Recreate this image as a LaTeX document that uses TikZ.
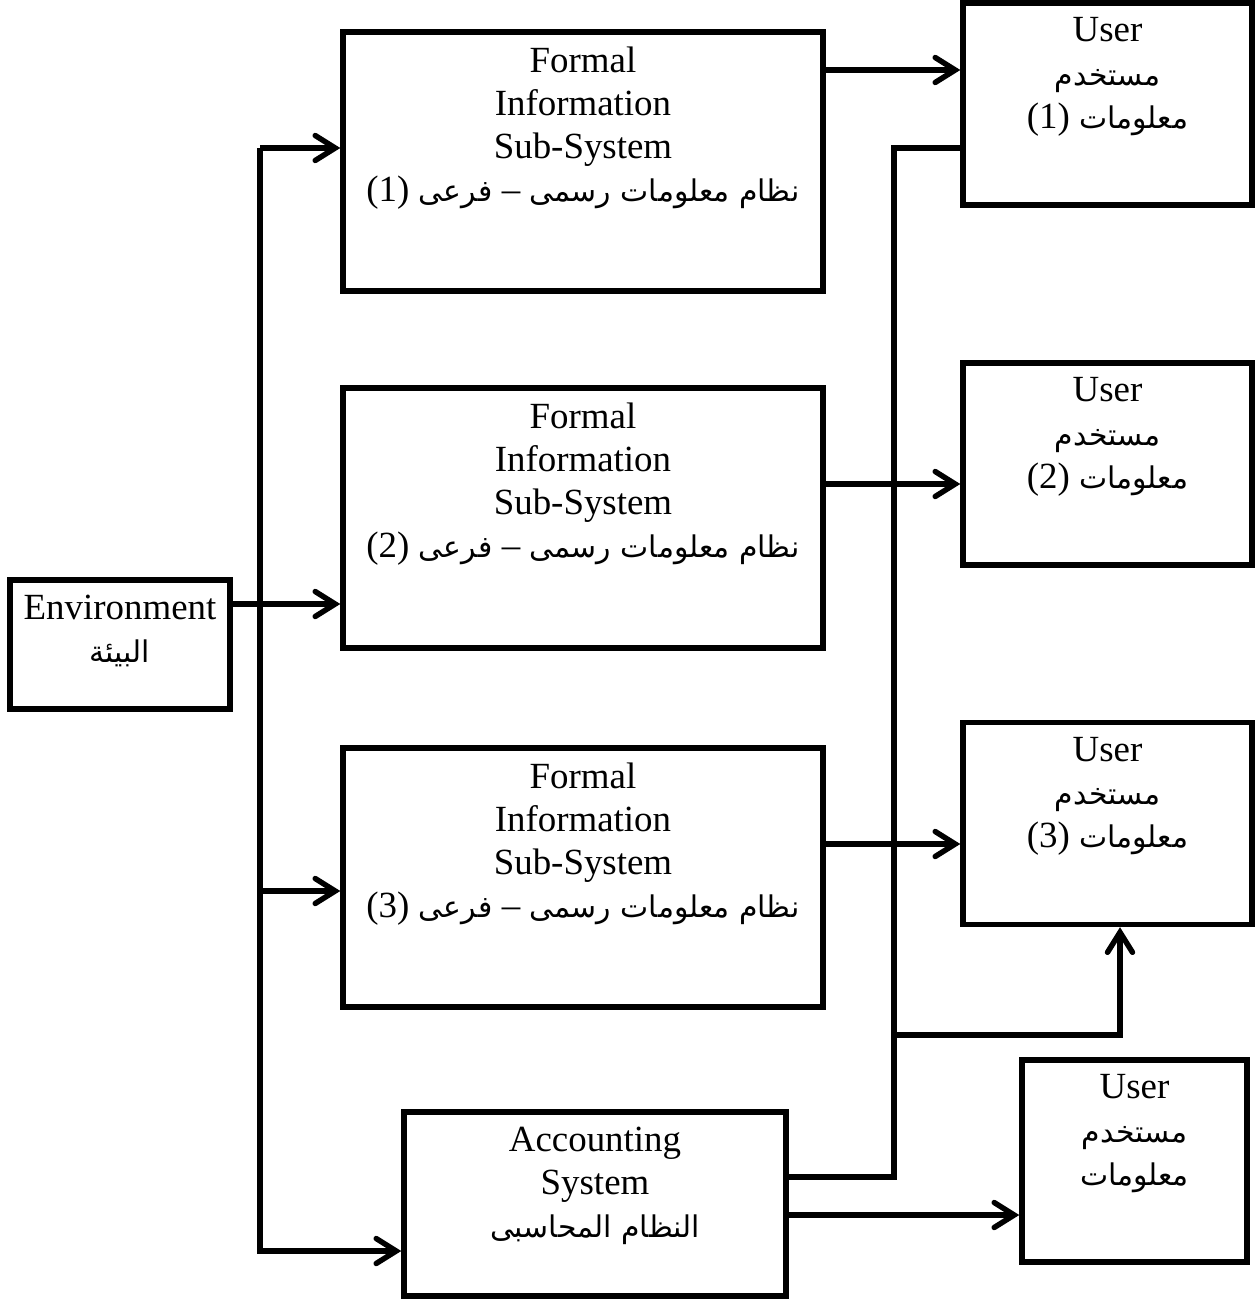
\documentclass[tikz,border=0pt]{standalone}
\usepackage{fontspec}
\setmainfont{Liberation Serif}
\newfontfamily\arabicfont[Script=Arabic]{DejaVu Sans}
\TeXXeTstate=1
\usetikzlibrary{arrows.meta}
\newcommand{\ar}[1]{{\arabicfont\fontsize{17}{24.5}\selectfont\beginR #1\endR}}
\newcommand{\nr}[1]{\beginL{\rmfamily\fontsize{21}{24.5}\selectfont(#1)}\endL}
\newcommand{\dsh}{{\rmfamily\fontsize{21}{24.5}\selectfont –}}
\newcommand{\topbox}[3]{\parbox[c][#2][t]{#1}{\centering\fontsize{21}{24.5}\selectfont\vspace*{7pt}#3}}

\begin{document}
\begin{tikzpicture}[x=0.02cm,y=-0.02cm,
	blk/.style={draw,line width=3.1pt,inner sep=0pt},
	wire/.style={line width=3.1pt},
	arr/.style={wire,-{Straight Barb[length=0.4cm,width=0.5cm,line cap=round]}}]
	\useasboundingbox (0,0) rectangle (1259,1301);
	% boxes
	\node[blk,minimum width=4.4cm,minimum height=2.58cm] (env) at (120,644.5) {\topbox{4.3cm}{2.48cm}{Environment\\\ar{البيئة}}};
	\node[blk,minimum width=9.6cm,minimum height=5.18cm] (fis1) at (583,161.5) {\topbox{9cm}{5.08cm}{Formal\\Information\\Sub-System\\\ar{نظام معلومات رسمى \dsh{} فرعى \nr{1}}}};
	\node[blk,minimum width=9.6cm,minimum height=5.2cm] (fis2) at (583,518) {\topbox{9cm}{5.1cm}{Formal\\Information\\Sub-System\\\ar{نظام معلومات رسمى \dsh{} فرعى \nr{2}}}};
	\node[blk,minimum width=9.6cm,minimum height=5.18cm] (fis3) at (583,877.5) {\topbox{9cm}{5.08cm}{Formal\\Information\\Sub-System\\\ar{نظام معلومات رسمى \dsh{} فرعى \nr{3}}}};
	\node[blk,minimum width=7.64cm,minimum height=3.68cm] (acc) at (595,1204) {\topbox{7.4cm}{3.58cm}{Accounting\\System\\\ar{النظام المحاسبى}}};
	\node[blk,minimum width=5.78cm,minimum height=4.04cm] (user1) at (1107.5,104) {\topbox{5.6cm}{3.94cm}{User\\\ar{مستخدم}\\\ar{معلومات \nr{1}}}};
	\node[blk,minimum width=5.78cm,minimum height=4.04cm] (user2) at (1107.5,464) {\topbox{5.6cm}{3.94cm}{User\\\ar{مستخدم}\\\ar{معلومات \nr{2}}}};
	\node[blk,minimum width=5.78cm,minimum height=4.04cm] (user3) at (1107.5,823.5) {\topbox{5.6cm}{3.94cm}{User\\\ar{مستخدم}\\\ar{معلومات \nr{3}}}};
	\node[blk,minimum width=4.5cm,minimum height=4.04cm] (user4) at (1134.5,1161) {\topbox{4.3cm}{3.94cm}{User\\\ar{مستخدم}\\\ar{معلومات}}};
	% left bus
	\coordinate (b1) at (260,148);
	\coordinate (b3) at (260,891);
	\coordinate (b4) at (260,1251);
	\draw[arr] (b1) -- (b1 -| fis1.west);
	\draw[arr] (env.east |- 0,604) -- (fis2.west |- 0,604);
	\draw[arr] (b3) -- (b3 -| fis3.west);
	\draw[arr] (b1) -- (b4) -- (b4 -| acc.west);
	% right side
	\draw[arr] (fis1.east |- 0,70) -- (user1.west |- 0,70);
	\draw[arr] (fis2.east |- 0,484) -- (user2.west |- 0,484);
	\draw[arr] (fis3.east |- 0,844) -- (user3.west |- 0,844);
	\coordinate (c1) at (894,148);
	\coordinate (c2) at (894,1177);
	\coordinate (c3) at (894,1035);
	\coordinate (c4) at (1120,1035);
	\draw[wire] (acc.east |- c2) -- (c2) -- (c1) -- (c1 -| user1.west);
	\draw[arr] (c3) -- (c4) -- (c4 |- user3.south);
	\draw[arr] (acc.east |- 0,1215) -- (user4.west |- 0,1215);
\end{tikzpicture}
\end{document}
